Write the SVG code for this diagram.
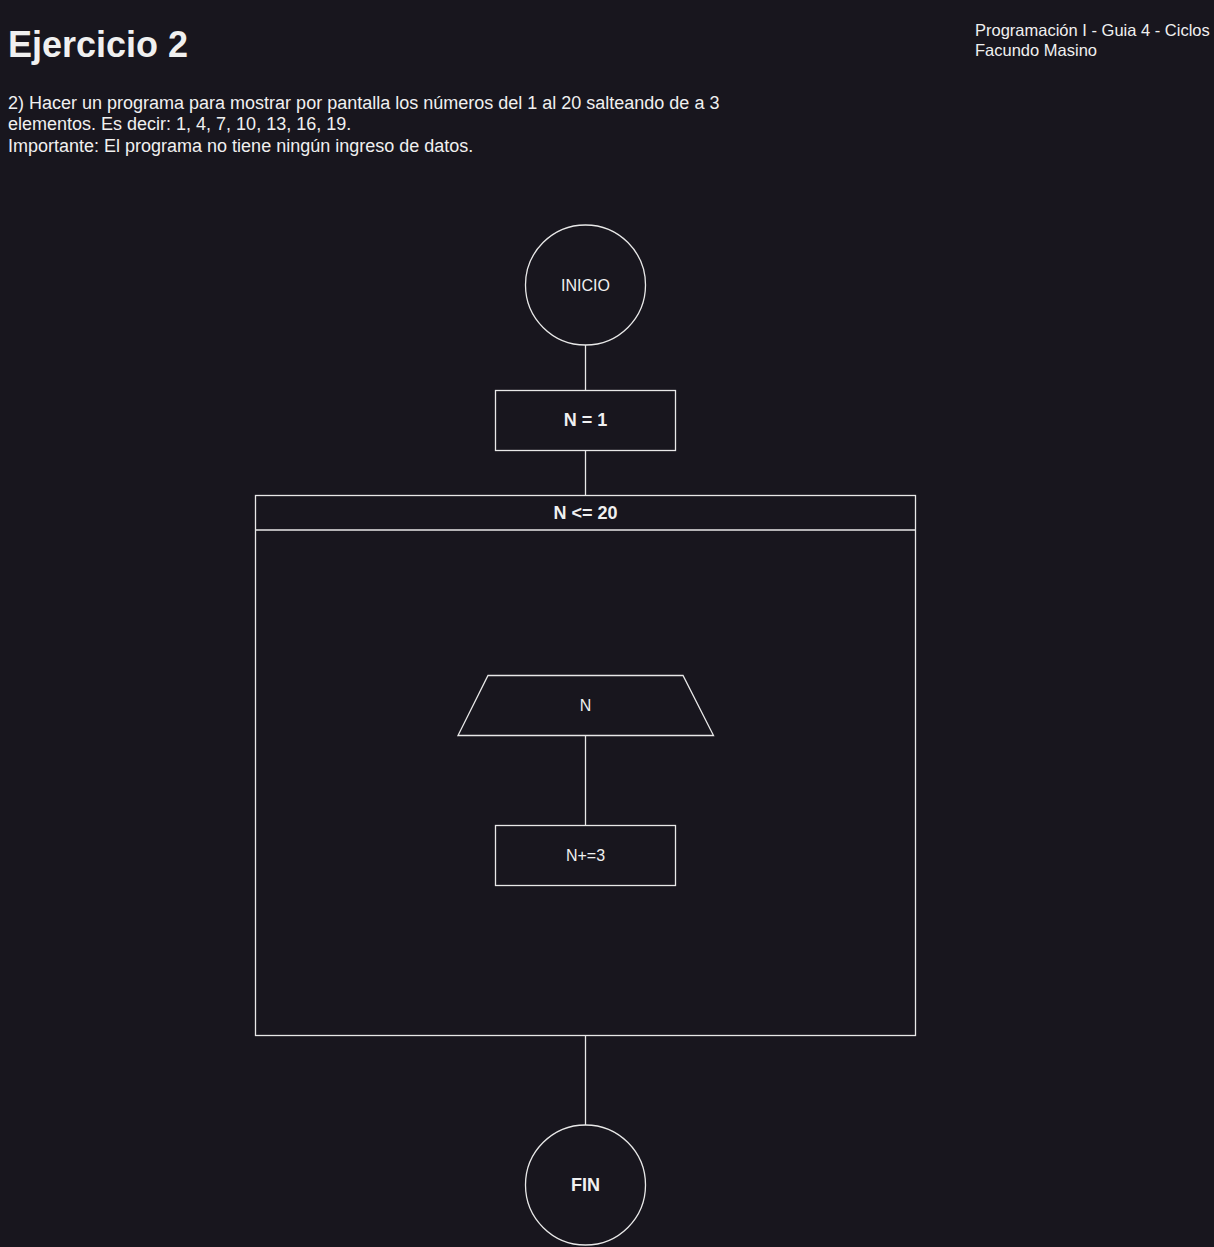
<svg xmlns="http://www.w3.org/2000/svg" width="1214" height="1247" viewBox="0 0 1214 1247">
  <defs>
    <style>
      .bg { fill: #18161e; }
      .shape { fill: #18161e; stroke: #e8e8e8; stroke-width: 1.3; }
      .wire { stroke: #e8e8e8; stroke-width: 1.3; fill: none; }
      text { font-family: "Liberation Sans", Arial, sans-serif; fill: #f0f0f0; }
      .lbl { font-size: 16px; text-anchor: middle; dominant-baseline: central; }
      .b { font-weight: bold; font-size: 18px; }
      .para { font-size: 18px; }
      .meta { font-size: 16.5px; }
    </style>
  </defs>

  <rect class="bg" x="0" y="0" width="1214" height="1247"/>

  <!-- Heading and statement -->
  <g id="heading">
    <text x="8" y="57" font-size="36" font-weight="bold">Ejercicio 2</text>
  </g>
  <g id="statement">
    <text class="para" x="8" y="108.5">2) Hacer un programa para mostrar por pantalla los números del 1 al 20 salteando de a 3</text>
    <text class="para" x="8" y="129.5">elementos. Es decir: 1, 4, 7, 10, 13, 16, 19.</text>
    <text class="para" x="8" y="151.5">Importante: El programa no tiene ningún ingreso de datos.</text>
  </g>
  <g id="meta">
    <text class="meta" x="975" y="35.5">Programación I - Guia 4 - Ciclos</text>
    <text class="meta" x="975" y="55.5">Facundo Masino</text>
  </g>

  <!-- Nodes -->
  <g id="inicio">
    <circle class="shape" cx="585.5" cy="285" r="60"/>
    <text class="lbl" x="585.5" y="285">INICIO</text>
  </g>
  <g id="init-n">
    <rect class="shape" x="495.5" y="390.5" width="180" height="60"/>
    <text class="lbl b" x="585.5" y="420">N = 1</text>
  </g>
  <g id="loop">
    <rect class="shape" x="255.5" y="495.5" width="660" height="540"/>
    <line class="wire" x1="255.5" y1="530" x2="915.5" y2="530"/>
    <text class="lbl b" x="585.5" y="512.5">N &lt;= 20</text>
  </g>
  <g id="output-n">
    <polygon class="shape" points="488,675.5 683,675.5 713.5,735.5 458,735.5"/>
    <text class="lbl" x="585.5" y="705">N</text>
  </g>
  <g id="step-n">
    <rect class="shape" x="495.5" y="825.5" width="180" height="60"/>
    <text class="lbl" x="585.5" y="855">N+=3</text>
  </g>
  <g id="fin">
    <circle class="shape" cx="585.5" cy="1185" r="60"/>
    <text class="lbl b" x="585.5" y="1184.5">FIN</text>
  </g>

  <!-- Connectors (drawn last so the loop body does not hide them) -->
  <g id="connectors">
    <line class="wire" x1="585.5" y1="345" x2="585.5" y2="390.5"/>
    <line class="wire" x1="585.5" y1="450.5" x2="585.5" y2="495.5"/>
    <line class="wire" x1="585.5" y1="735.5" x2="585.5" y2="825.5"/>
    <line class="wire" x1="585.5" y1="1035.5" x2="585.5" y2="1125"/>
  </g>
</svg>
